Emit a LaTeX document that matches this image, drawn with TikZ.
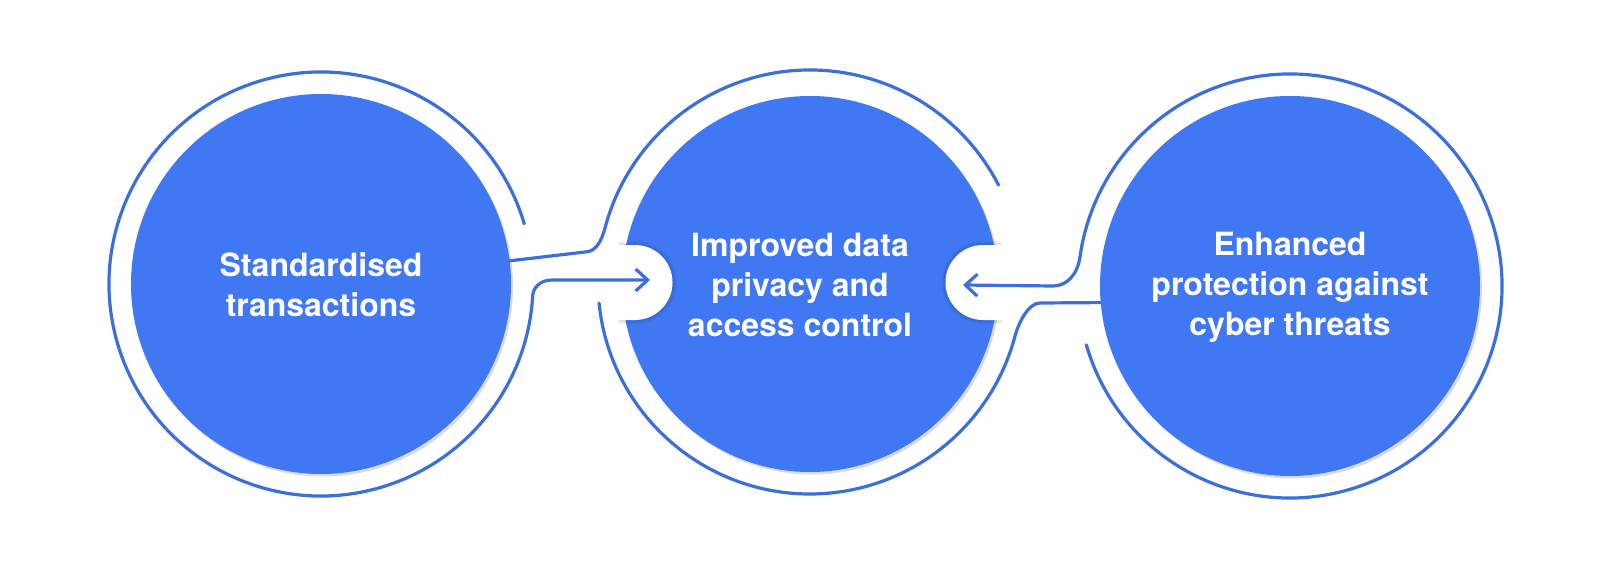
\documentclass[tikz,border=0pt]{standalone}
\usepackage{fontspec}
\setmainfont{TeX Gyre Heros}
\usetikzlibrary{arrows.meta,shadows,calc}
\definecolor{cfill}{HTML}{4077F3}
\definecolor{cline}{HTML}{3D6FD9}
\begin{document}
\begin{tikzpicture}[x=1pt,y=-1pt,
  blob/.style={circle, fill=cfill, inner sep=0pt, minimum size=380pt,
    drop shadow={shadow xshift=2pt, shadow yshift=-2.5pt, opacity=0.2, fill=black!70}},
  txt/.style={text=white, font=\bfseries\fontsize{32}{40}\selectfont, align=center},
  ringline/.style={draw=cline, line width=3.2pt, line cap=round},
  arrowed/.style={-{Straight Barb[length=12pt,width=22pt]}},
  notchfill/.style={fill=white}]
\useasboundingbox (0,0) rectangle (1600,572);
\fill[white] (0,0) rectangle (1600,572);

% circles
\node[blob] (A) at (321,284) {};
\node[blob, minimum size=376pt] (B) at (810,284) {};
\node[blob] (C) at (1290,286) {};

% notches of the middle circle
\begin{scope}
  \clip (810,284) circle[radius=195];
  \fill[black, opacity=0.06] (598,241) -- (635,241) arc[start angle=-90, end angle=90, radius=41.5] -- (598,324) -- cycle;
  \fill[black, opacity=0.06] (598,243) -- (635,243) arc[start angle=-90, end angle=90, radius=39.5] -- (598,322) -- cycle;
  \fill[black, opacity=0.06] (1022,241) -- (983,241) arc[start angle=270, end angle=90, radius=41.5] -- (1022,324) -- cycle;
  \fill[black, opacity=0.06] (1022,243) -- (983,243) arc[start angle=270, end angle=90, radius=39.5] -- (1022,322) -- cycle;
\end{scope}
\fill[notchfill] (598,245) -- (635,245) arc[start angle=-90, end angle=90, radius=37.5] -- (598,320) -- cycle;
\fill[notchfill] (1022,245) -- (983,245) arc[start angle=270, end angle=90, radius=37.5] -- (1022,320) -- cycle;

% named points
\coordinate (aTip) at (650,280);
\coordinate (cTip) at (963,285);

% left ring, ending in the arrow into the middle circle
\draw[ringline, arrowed] (A.center) ++(-16.5:212)
  arc[start angle=-16.5, end angle=-356.5, radius=212]
  .. controls +(0,-9) and +(-12,0) .. (552,280) -- (aTip);

% middle ring, lower piece, running to the right circle
\draw[ringline] (810,282) ++(174.3:212)
  arc[start angle=174.3, end angle=15, radius=212]
  .. controls +(3.6,-13.5) and +(-12,0) .. (1040,303) -- (C.185.1);

% middle ring, upper piece, running to the left circle
\draw[ringline] (810,282) ++(-27.2:212)
  arc[start angle=-27.2, end angle=-165, radius=212]
  .. controls +(-4,15.5) and +(10,0) .. (585,252) -- (A.7.5);

% right ring, ending in the arrow into the middle circle
\draw[ringline, arrowed] (C.center) ++(163.9:212)
  arc[start angle=163.9, end angle=-172, radius=212]
  .. controls +(-2.5,18) and +(14,0) .. (1053,286) -- (cTip);

% texts
\node[txt] (tA) at (321,285) {Standardised\\transactions};
\node[txt] (tB) at (800,285) {Improved data\\privacy and\\access control};
\node[txt] (tC) at (1290,287) {Enhanced\\protection against\\cyber threats};
\end{tikzpicture}
\end{document}
